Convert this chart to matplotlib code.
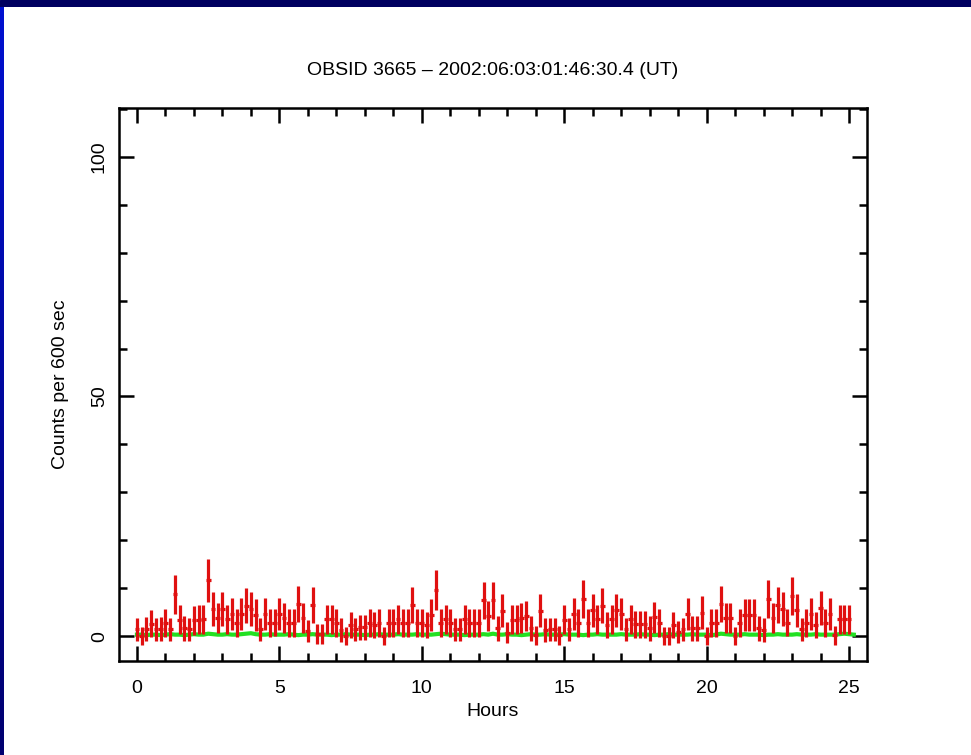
import numpy as np
import matplotlib
matplotlib.use("Agg")
from matplotlib import pyplot as plt
from matplotlib.ticker import MultipleLocator

# source counts per 600 s bin (bin i at i/6 hours)
src_counts = [
    1.4, 0.0, 1.5, 2.6, 1.4, 1.5, 2.7, 1.4, 8.7, 3.4,
    1.6, 1.4, 3.3, 3.4, 3.5, 11.6, 5.6, 3.7, 5.6, 3.5,
    4.6, 2.7, 4.6, 6.3, 5.6, 4.4, 1.4, 4.6, 2.7, 2.8,
    4.6, 3.7, 2.7, 2.7, 6.7, 3.7, 1.0, 6.5, 0.5, 0.5,
    3.5, 3.5, 2.7, 1.3, 0.0, 2.3, 1.4, 1.8, 1.8, 2.7,
    2.3, 2.7, 0.0, 2.7, 2.7, 3.5, 2.7, 2.7, 6.5, 2.7,
    2.7, 2.3, 4.4, 9.6, 2.7, 3.5, 2.7, 1.4, 1.4, 3.5,
    2.7, 2.7, 2.7, 7.5, 4.2, 7.5, 1.6, 5.3, 0.7, 3.4,
    3.4, 3.7, 4.2, 1.6, 0.2, 5.3, 1.3, 1.4, 1.4, 0.2,
    3.4, 1.4, 4.6, 2.7, 7.7, 2.7, 5.4, 3.5, 6.3, 2.3,
    3.5, 5.4, 4.6, 1.4, 3.5, 2.5, 2.5, 2.5, 1.6, 3.9,
    2.7, 0.0, 0.0, 2.3, 0.9, 1.4, 4.6, 1.6, 1.6, 4.9,
    0.0, 2.7, 2.7, 6.7, 3.7, 3.7, 0.0, 2.7, 4.4, 4.4,
    4.4, 1.6, 1.3, 7.7, 3.7, 6.5, 5.6, 2.8, 8.4, 5.4,
    1.4, 2.7, 4.6, 2.3, 5.8, 2.7, 4.7, 0.2, 3.5, 3.5,
    3.5,
]

# background level (green), same bins
bkg_counts = [
    0.3, 0.3, 0.2, 0.3, 0.3, 0.2, 0.3, 0.4, 0.3, 0.3,
    0.2, 0.3, 0.4, 0.3, 0.3, 0.5, 0.4, 0.3, 0.3, 0.4,
    0.3, 0.3, 0.4, 0.5, 0.6, 0.4, 0.3, 0.3, 0.4, 0.3,
    0.3, 0.3, 0.4, 0.3, 0.2, 0.3, 0.3, 0.4, 0.3, 0.3,
    0.3, 0.2, 0.3, 0.3, 0.4, 0.3, 0.3, 0.3, 0.2, 0.3,
    0.3, 0.4, 0.3, 0.3, 0.3, 0.4, 0.3, 0.3, 0.3, 0.4,
    0.3, 0.3, 0.3, 0.4, 0.5, 0.4, 0.3, 0.3, 0.3, 0.2,
    0.3, 0.3, 0.3, 0.4, 0.3, 0.5, 0.3, 0.3, 0.4, 0.3,
    0.3, 0.2, 0.3, 0.4, 0.3, 0.3, 0.4, 0.3, 0.3, 0.3,
    0.4, 0.3, 0.3, 0.3, 0.2, 0.3, 0.3, 0.4, 0.3, 0.3,
    0.3, 0.3, 0.4, 0.3, 0.3, 0.3, 0.4, 0.3, 0.3, 0.2,
    0.3, 0.3, 0.4, 0.3, 0.3, 0.3, 0.3, 0.4, 0.3, 0.3,
    0.3, 0.2, 0.3, 0.5, 0.4, 0.3, 0.3, 0.3, 0.4, 0.3,
    0.3, 0.3, 0.2, 0.3, 0.3, 0.4, 0.3, 0.3, 0.3, 0.4,
    0.3, 0.3, 0.3, 0.4, 0.3, 0.3, 0.3, 0.3, 0.4, 0.5,
    0.4, 0.3,
]

bin_hours = 600.0 / 3600.0
title = "OBSID 3665 \u2013 2002:06:03:01:46:30.4 (UT)"

src = np.array(src_counts)
x_src = np.arange(len(src)) * bin_hours
src_err = 1.0 + np.sqrt(src + 0.75)   # Gehrels-style error
bkg = np.array(bkg_counts)
x_bkg = np.arange(len(bkg)) * bin_hours

plt.rcParams['font.family'] = ['Liberation Sans', 'DejaVu Sans']

fig = plt.figure(figsize=(9.71, 7.55), dpi=100)
fig.patch.set_facecolor('white')

# blue frame of the slide (top navy bar, left blue gradient bar)
top = fig.add_axes([0, 1 - 7 / 755, 1, 7 / 755])
top.set_axis_off()
top.add_patch(plt.Rectangle((0, 0), 1, 1, color='#000060', transform=top.transAxes))
side = fig.add_axes([0, 0, 4 / 971, 1 - 7 / 755])
side.imshow(np.linspace(1, 0, 100).reshape(-1, 1), aspect='auto',
            cmap=matplotlib.colors.LinearSegmentedColormap.from_list('b', ['#000070', '#0010d0']),
            extent=[0, 1, 0, 1])
side.set_axis_off()

ax = fig.add_axes([119 / 971, 1 - 661 / 755, 748 / 971, 553 / 755])
ax.plot(x_bkg, bkg, color='#22e022', lw=3.0, zorder=2)
ax.errorbar(x_src, src, yerr=src_err, xerr=bin_hours / 2, fmt='none',
            ecolor='#e01010', elinewidth=2.3, capsize=0, zorder=3)

ax.set_xlim(-0.63, 25.63)
ax.set_ylim(-5.2, 110.2)
ax.xaxis.set_major_locator(MultipleLocator(5))
ax.xaxis.set_minor_locator(MultipleLocator(1))
ax.yaxis.set_major_locator(MultipleLocator(50))
ax.yaxis.set_minor_locator(MultipleLocator(10))
ax.tick_params(which='both', direction='in', top=True, right=True, width=1.8, color='black')
ax.tick_params(which='major', length=11, labelsize=14)
ax.tick_params(axis='x', which='major', pad=14)
ax.tick_params(axis='y', which='major', pad=8)
ax.tick_params(which='minor', length=6)
for lab in ax.get_yticklabels():
    lab.set_rotation(90)
    lab.set_va('center')
for sp in ax.spines.values():
    sp.set_linewidth(1.8)

ax.set_xlabel('Hours', fontsize=14, labelpad=4)
ax.set_ylabel('Counts per 600 sec', fontsize=14, labelpad=16)
ax.set_title(title, fontsize=14, pad=24)

fig.savefig('out.png', dpi=100)
